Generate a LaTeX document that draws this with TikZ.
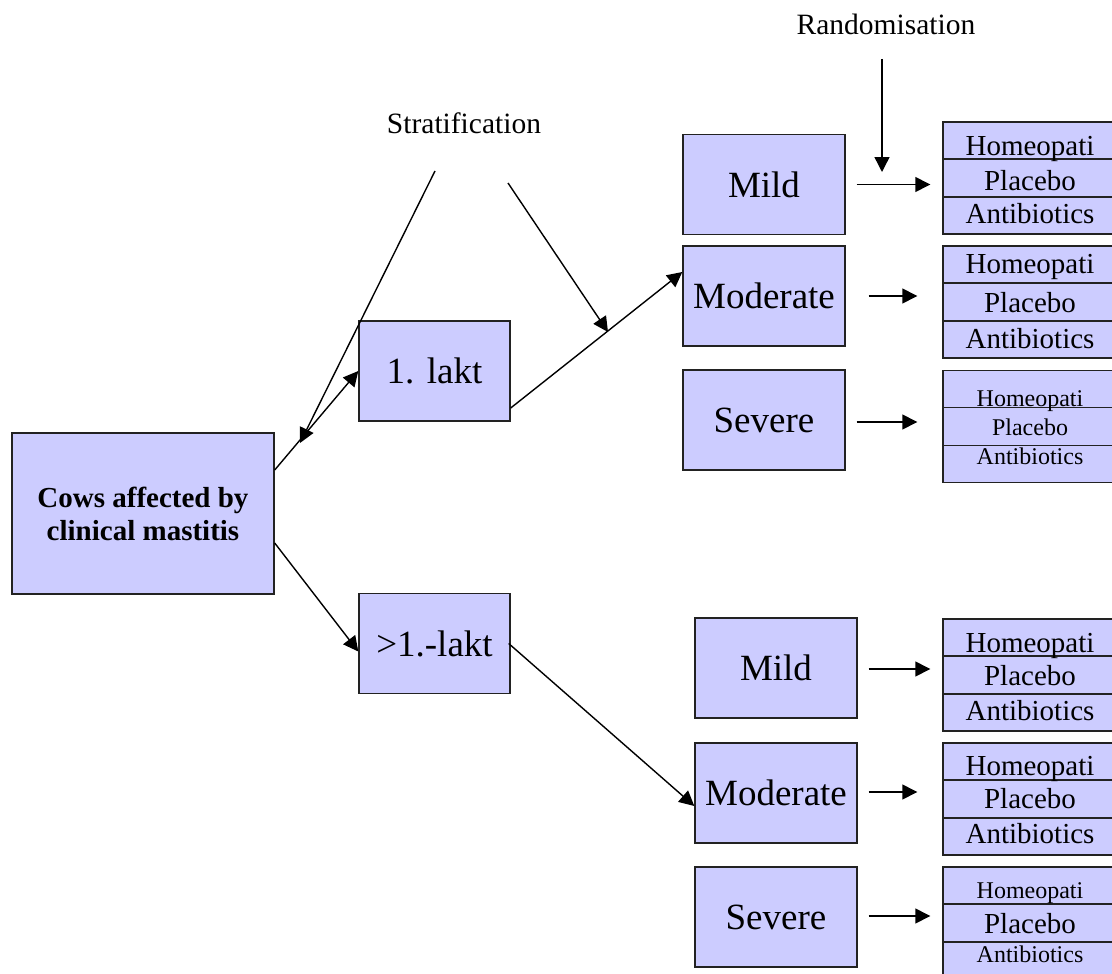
\documentclass[tikz,border=0pt]{standalone}
\usepackage{fontspec}
\setmainfont{Liberation Serif}
\usetikzlibrary{arrows.meta,calc}
\definecolor{boxfill}{HTML}{CCCCFF}
\definecolor{boxline}{HTML}{222222}
\begin{document}
\begin{tikzpicture}[x=1pt,y=-1pt,
  box/.style={draw=boxline,fill=boxfill,line width=1.4pt,inner sep=0pt,align=center,font=\fontsize{37}{40}\selectfont},
  catbox/.style={box,minimum width=162pt,minimum height=100pt},
  trt/.style={draw=boxline,fill=boxfill,line width=1.4pt,inner sep=0pt,minimum width=172pt,minimum height=112pt},
  lbl/.style={font=\fontsize{29.5}{32}\selectfont,inner sep=0pt,anchor=base},
  tbig/.style={font=\fontsize{29}{32}\selectfont,anchor=base,inner sep=0pt},
  tsmall/.style={font=\fontsize{24}{28}\selectfont,anchor=base,inner sep=0pt},
  conn/.style={line width=1.4pt,-{Triangle[length=15pt,width=15pt]}},
  divider/.style={draw=boxline,line width=1.4pt}]
\useasboundingbox (0,0) rectangle (1112,974);
\clip (0,0) rectangle (1112,974);

% labels
\node[lbl] (strat) at (464,133) {Stratification};
\node[lbl] (rand) at (886,35) {Randomisation};

% main boxes
\node[box,minimum width=262pt,minimum height=161pt,font=\bfseries\fontsize{29}{33}\selectfont] (main) at (143,513.5) {Cows affected by\\ clinical mastitis};
\node[box,minimum width=151pt,minimum height=100pt] (l1) at (434.5,371) {1. lakt};
\node[box,minimum width=151pt,minimum height=100pt] (l2) at (434.5,643.5) {>1.-lakt};

\node[catbox] (mildT) at (764,184.5) {Mild};
\node[catbox] (modT) at (764,296) {Moderate};
\node[catbox] (sevT) at (764,420) {Severe};
\node[catbox] (mildB) at (776,668) {Mild};
\node[catbox] (modB) at (776,793) {Moderate};
\node[catbox] (sevB) at (776,917) {Severe};

% treatment groups
\foreach \n/\y in {tT1/178,tT2/302,tT3/426.5,tB1/675,tB2/799,tB3/923}{
  \node[trt] (\n) at (1029,\y) {};
  \draw[divider] ($(\n.north west)!1/3!(\n.south west)$) -- ($(\n.north east)!1/3!(\n.south east)$);
  \draw[divider] ($(\n.north west)!2/3!(\n.south west)$) -- ($(\n.north east)!2/3!(\n.south east)$);
}
\node[tbig] (tT1a) at (1030,155) {Homeopati};
\node[tbig] (tT1b) at (1030,190) {Placebo};
\node[tbig] (tT1c) at (1030,223) {Antibiotics};
\node[tbig] (tT2a) at (1030,273) {Homeopati};
\node[tbig] (tT2b) at (1030,312) {Placebo};
\node[tbig] (tT2c) at (1030,348) {Antibiotics};
\node[tsmall] (tT3a) at (1030,406) {Homeopati};
\node[tsmall] (tT3b) at (1030,435) {Placebo};
\node[tsmall] (tT3c) at (1030,464) {Antibiotics};
\node[tbig] (tB1a) at (1030,652) {Homeopati};
\node[tbig] (tB1b) at (1030,685) {Placebo};
\node[tbig] (tB1c) at (1030,720) {Antibiotics};
\node[tbig] (tB2a) at (1030,775) {Homeopati};
\node[tbig] (tB2b) at (1030,808) {Placebo};
\node[tbig] (tB2c) at (1030,843) {Antibiotics};
\node[tsmall] (tB3a) at (1030,898) {Homeopati};
\node[tbig] (tB3b) at (1030,933) {Placebo};
\node[tsmall] (tB3c) at (1030,962) {Antibiotics};

% connectors
\draw[conn] ([yshift=43.5pt]main.east) -- (l1.west);
\draw[conn] ([yshift=-29.5pt]main.east) -- ([yshift=-8pt]l2.west);
\draw[conn] ([yshift=-37pt]l1.east) -- ([yshift=24pt]modT.west);
\draw[conn] ([xshift=-2pt]l2.east) -- ([yshift=-13pt]modB.west);

% stratification / randomisation pointers
\coordinate (s1) at (435,171);
\coordinate (s1e) at (300,443);
\coordinate (s2) at (508,183);
\coordinate (s2e) at (608,332);
\coordinate (r1) at (882,59);
\coordinate (r2) at (882,172);
\draw[conn] (s1) -- (s1e);
\draw[conn] (s2) -- (s2e);
\draw[conn] (r1) -- (r2);

% to treatment groups
\draw[conn] ([xshift=11pt]mildT.east) -- ($(mildT.east -| tT1.west)+(-12,0)$);
\draw[conn] ([xshift=23pt]modT.east) -- ($(modT.east -| tT2.west)+(-25,0)$);
\draw[conn] ([xshift=11pt,yshift=-2pt]sevT.east) -- ($([yshift=-2pt]sevT.east -| tT3.west)+(-25,0)$);
\draw[conn] ([xshift=11pt,yshift=-1pt]mildB.east) -- ($([yshift=-1pt]mildB.east -| tB1.west)+(-12,0)$);
\draw[conn] ([xshift=11pt,yshift=1pt]modB.east) -- ($([yshift=1pt]modB.east -| tB2.west)+(-25,0)$);
\draw[conn] ([xshift=11pt,yshift=1pt]sevB.east) -- ($([yshift=1pt]sevB.east -| tB3.west)+(-12,0)$);
\end{tikzpicture}
\end{document}
